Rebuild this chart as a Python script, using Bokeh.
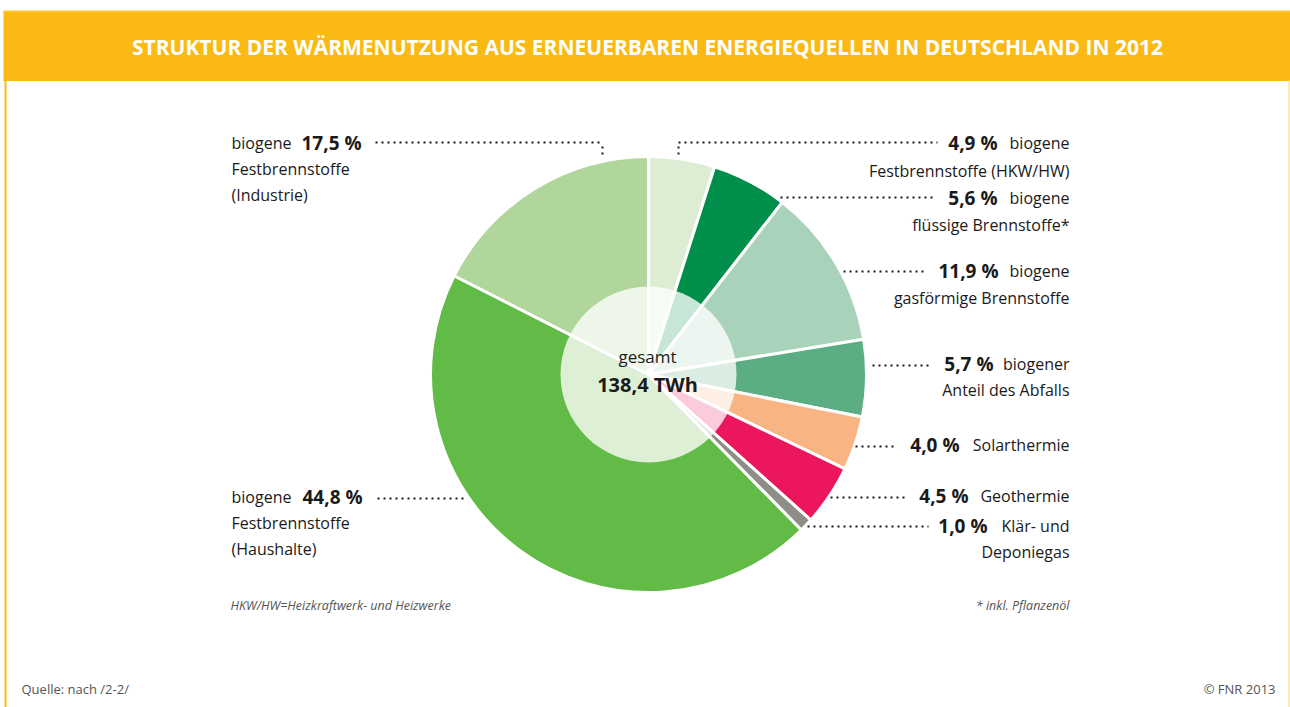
import math
import numpy as np
from bokeh.plotting import figure
from bokeh.models import Range1d, ColumnDataSource
from bokeh.core.properties import value
from bokeh.embed import file_html
from bokeh.resources import INLINE

# ---------------- data ----------------
categories = [
    "biogene Festbrennstoffe (HKW/HW)",
    "biogene flüssige Brennstoffe*",
    "biogene gasförmige Brennstoffe",
    "biogener Anteil des Abfalls",
    "Solarthermie",
    "Geothermie",
    "Klär- und Deponiegas",
    "biogene Festbrennstoffe (Haushalte)",
    "biogene Festbrennstoffe (Industrie)",
]
shares = [4.9, 5.6, 11.9, 5.7, 4.0, 4.5, 1.0, 44.8, 17.5]
colors = ["#DCEDD3", "#008F4A", "#A9D2BA", "#5BAE82", "#F8B483",
          "#EC165D", "#8E8E86", "#63BB47", "#B1D69B"]
total_text = "138,4 TWh"
title = "STRUKTUR DER WÄRMENUTZUNG AUS ERNEUERBAREN ENERGIEQUELLEN IN DEUTSCHLAND IN 2012"

# ---------------- layout helpers ----------------
W, H = 1290, 707
def Y(yr):  # reference pixel row -> data y
    return H - yr

FONT = value("Open Sans")
DARK = "#1A1A1A"
YELLOW = "#FBB913"
DY = 10  # text baseline correction

p = figure(width=W, height=H, x_range=Range1d(0, W), y_range=Range1d(0, H),
           output_backend="svg", toolbar_location=None,
           x_axis_type=None, y_axis_type=None,
           min_border=0, min_border_left=0, min_border_right=0,
           min_border_top=0, min_border_bottom=0)
p.grid.visible = False
p.outline_line_color = None
p.background_fill_color = "white"
p.border_fill_color = "white"

# header band and side borders
p.quad(left=[3], right=[W], top=[Y(10)], bottom=[Y(80.5)], fill_color=YELLOW, line_color=None)
p.quad(left=[3], right=[W], top=[Y(10)], bottom=[Y(11)], fill_color="#FCD97A", line_color=None)
p.segment(x0=[5], y0=[Y(80)], x1=[5], y1=[0], line_color=YELLOW, line_width=2)
p.segment(x0=[1288.5], y0=[Y(80)], x1=[1288.5], y1=[0], line_color="#FCE3A0", line_width=1.5)

p.text(x=[647], y=[Y(55 - 9)], text=[title], text_align="center", text_baseline="alphabetic",
       text_font=FONT, text_font_size="21px", text_font_style="bold", text_color="white")

# ---------------- pie ----------------
cx, cy, R, r_in = 648, Y(374), 218, 88
vals = np.array(shares, dtype=float)
tot = vals.sum()
cum = np.concatenate([[0.0], np.cumsum(vals)])
start = math.pi / 2 - 2 * math.pi * cum[:-1] / tot
end = math.pi / 2 - 2 * math.pi * cum[1:] / tot
src = ColumnDataSource(dict(cat=categories, share=shares, start=start, end=end, color=colors))
p.wedge(x=cx, y=cy, radius=R, start_angle="start", end_angle="end", direction="clock",
        fill_color="color", line_color="white", line_width=3, source=src)
p.circle(x=[cx], y=[cy], radius=r_in, fill_color="white", fill_alpha=0.78, line_color=None)

p.text(x=[647], y=[Y(365 - 9)], text=["gesamt"], text_align="center", text_baseline="alphabetic",
       text_font=FONT, text_font_size="17px", text_color=DARK)
p.text(x=[647], y=[Y(392 - 8)], text=[total_text], text_align="center", text_baseline="alphabetic",
       text_font=FONT, text_font_size="20px", text_font_style="bold", text_color=DARK)

# ---------------- labels ----------------
pct = [f"{v:.1f}".replace(".", ",") + " %" for v in shares]

# leader lines (reference pixel positions): x0, x1, y
leaders = [
    (678, 937, 142), (780, 935, 197), (843, 925, 271), (872, 928, 365),
    (855, 897, 446), (830, 907, 497), (807, 928, 526), (377, 463, 498), (375, 602, 142),
]
p.segment(x0=[l[0] for l in leaders], x1=[l[1] for l in leaders],
          y0=[Y(l[2]) for l in leaders], y1=[Y(l[2]) for l in leaders],
          line_color=DARK, line_width=2, line_dash="2 4")
# small vertical drops for the two top labels
p.segment(x0=[678, 602], x1=[678, 602], y0=[Y(146), Y(146)], y1=[Y(158), Y(158)],
          line_color=DARK, line_width=2, line_dash="2 4")

# right side: bold percent right edge, first-line text, baseline, second line, baseline2
right_lbls = [
    (0, 997, "biogene", 152, "Festbrennstoffe (HKW/HW)", 180),
    (1, 997, "biogene", 207, "flüssige Brennstoffe*", 234),
    (2, 998, "biogene", 280, "gasförmige Brennstoffe", 307),
    (3, 993, "biogener", 373, "Anteil des Abfalls", 399),
    (4, 959, "Solarthermie", 454, None, None),
    (5, 968, "Geothermie", 505, None, None),
    (6, 987, "Klär- und", 535, "Deponiegas", 561),
]
RX = 1069
p.text(x=[b[1] for b in right_lbls], y=[Y(b[3] - DY) for b in right_lbls],
       text=[pct[b[0]] for b in right_lbls], text_align="right", text_baseline="alphabetic",
       text_font=FONT, text_font_size="19px", text_font_style="bold", text_color=DARK)
p.text(x=[RX] * len(right_lbls), y=[Y(b[3] - DY) for b in right_lbls],
       text=[b[2] for b in right_lbls], text_align="right", text_baseline="alphabetic",
       text_font=FONT, text_font_size="16px", text_color=DARK)
sec = [b for b in right_lbls if b[4]]
p.text(x=[RX] * len(sec), y=[Y(b[5] - DY) for b in sec], text=[b[4] for b in sec],
       text_align="right", text_baseline="alphabetic",
       text_font=FONT, text_font_size="16px", text_color=DARK)

# left side
left_lbls = [
    (8, 301, 152, "(Industrie)"),
    (7, 302, 506, "(Haushalte)"),
]
LX = 231
p.text(x=[LX] * 2, y=[Y(b[2] - DY) for b in left_lbls], text=["biogene"] * 2,
       text_align="left", text_baseline="alphabetic",
       text_font=FONT, text_font_size="16px", text_color=DARK)
p.text(x=[b[1] for b in left_lbls], y=[Y(b[2] - DY) for b in left_lbls],
       text=[pct[b[0]] for b in left_lbls], text_align="left", text_baseline="alphabetic",
       text_font=FONT, text_font_size="19px", text_font_style="bold", text_color=DARK)
p.text(x=[LX] * 2, y=[Y(b[2] + 26 - DY) for b in left_lbls], text=["Festbrennstoffe"] * 2,
       text_align="left", text_baseline="alphabetic",
       text_font=FONT, text_font_size="16px", text_color=DARK)
p.text(x=[LX] * 2, y=[Y(b[2] + 52 - DY) for b in left_lbls], text=[b[3] for b in left_lbls],
       text_align="left", text_baseline="alphabetic",
       text_font=FONT, text_font_size="16px", text_color=DARK)

# footnotes
p.text(x=[230], y=[Y(605)], text=["HKW/HW=Heizkraftwerk- und Heizwerke"], text_align="left",
       text_baseline="alphabetic", text_font=FONT, text_font_size="12.5px",
       text_font_style="italic", text_color="#555555")
p.text(x=[1069], y=[Y(605)], text=["* inkl. Pflanzenöl"], text_align="right",
       text_baseline="alphabetic", text_font=FONT, text_font_size="12.5px",
       text_font_style="italic", text_color="#555555")
p.text(x=[21], y=[Y(688)], text=["Quelle: nach /2-2/"], text_align="left",
       text_baseline="alphabetic", text_font=FONT, text_font_size="13px", text_color="#555555")
p.text(x=[1275], y=[Y(688)], text=["© FNR 2013"], text_align="right",
       text_baseline="alphabetic", text_font=FONT, text_font_size="13px", text_color="#555555")

open("out.html", "w").write(file_html(p, INLINE))
